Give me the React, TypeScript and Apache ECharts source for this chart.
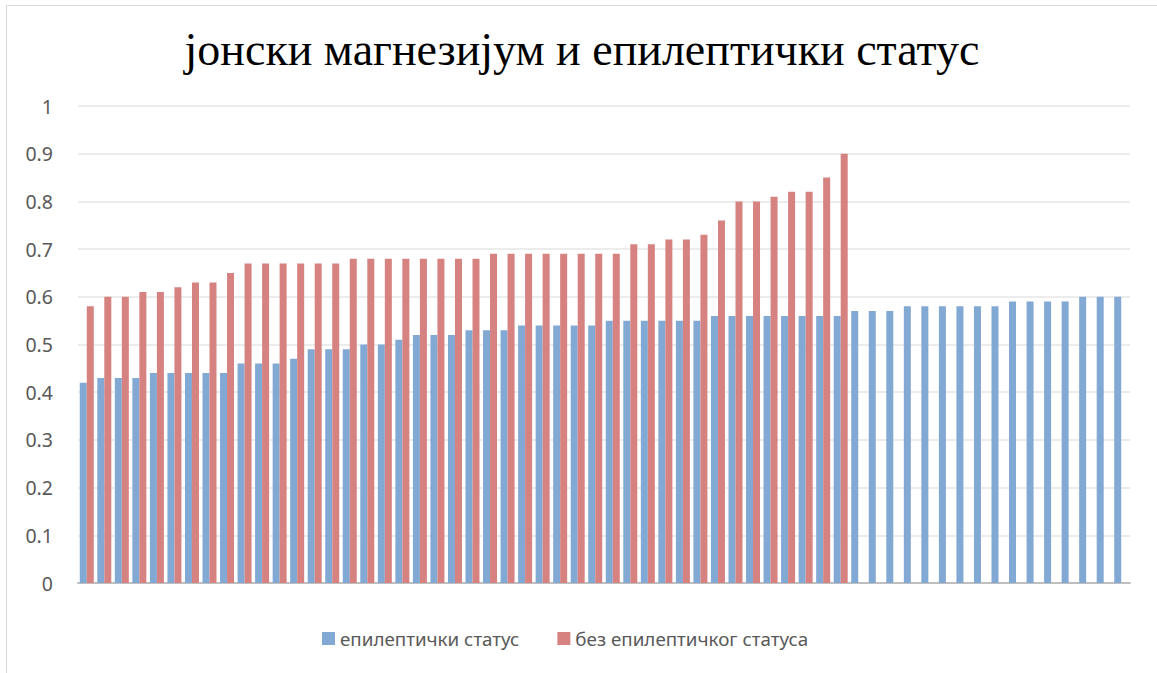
import React, { useEffect, useRef } from "react";
import * as echarts from "echarts";

const titleText = "јонски магнезијум и епилептички статус";
const seriesNames = ["епилептички статус", "без епилептичког статуса"];

const epilepticValues = [
  0.42, 0.43, 0.43, 0.43, 0.44, 0.44, 0.44, 0.44, 0.44, 0.46,
  0.46, 0.46, 0.47, 0.49, 0.49, 0.49, 0.5, 0.5, 0.51, 0.52,
  0.52, 0.52, 0.53, 0.53, 0.53, 0.54, 0.54, 0.54, 0.54, 0.54,
  0.55, 0.55, 0.55, 0.55, 0.55, 0.55, 0.56, 0.56, 0.56, 0.56,
  0.56, 0.56, 0.56, 0.56, 0.57, 0.57, 0.57, 0.58, 0.58, 0.58,
  0.58, 0.58, 0.58, 0.59, 0.59, 0.59, 0.59, 0.6, 0.6, 0.6,
];

const nonEpilepticValues = [
  0.58, 0.6, 0.6, 0.61, 0.61, 0.62, 0.63, 0.63, 0.65, 0.67,
  0.67, 0.67, 0.67, 0.67, 0.67, 0.68, 0.68, 0.68, 0.68, 0.68,
  0.68, 0.68, 0.68, 0.69, 0.69, 0.69, 0.69, 0.69, 0.69, 0.69,
  0.69, 0.71, 0.71, 0.72, 0.72, 0.73, 0.76, 0.8, 0.8, 0.81,
  0.82, 0.82, 0.85, 0.9,
];

const categories = epilepticValues.map((_, i) => String(i + 1));

export default function App() {
  const ref = useRef<HTMLDivElement>(null);
  useEffect(() => {
    if (!ref.current) return;
    const chart = echarts.init(ref.current, undefined, { renderer: "svg" });
    chart.setOption({
      animation: false,
      backgroundColor: "#ffffff",
      title: {
        text: titleText,
        left: "center",
        top: 15,
        textStyle: {
          fontFamily: "Liberation Serif",
          fontWeight: "normal",
          fontSize: 46,
          color: "#000000",
        },
      },
      legend: {
        bottom: 20,
        left: 310,
        itemWidth: 13,
        itemHeight: 13,
        itemGap: 38,
        icon: "rect",
        textStyle: {
          fontFamily: "Noto Sans",
          fontSize: 18.8,
          color: "#595959",
        },
        data: seriesNames,
      },
      grid: { left: 71, right: 27, top: 100, bottom: 90, containLabel: false },
      xAxis: {
        type: "category",
        data: categories,
        axisLine: { lineStyle: { color: "#bfbfbf", width: 2 } },
        axisTick: { show: false },
        axisLabel: { show: false },
      },
      yAxis: {
        type: "value",
        min: 0,
        max: 1,
        interval: 0.1,
        axisLine: { show: false },
        axisTick: { show: false },
        splitLine: { lineStyle: { color: "#e6e6e6", width: 1.5 } },
        axisLabel: {
          fontFamily: "Noto Sans",
          fontSize: 19.5,
          color: "#595959",
          margin: 25,
          formatter: (v: number) => String(Math.round(v * 10) / 10),
        },
      },
      series: [
        {
          name: seriesNames[0],
          type: "bar",
          data: epilepticValues,
          barWidth: 7,
          barGap: "0%",
          itemStyle: { color: "#82a8d4" },
        },
        {
          name: seriesNames[1],
          type: "bar",
          data: nonEpilepticValues,
          barWidth: 7,
          itemStyle: { color: "#d58281" },
        },
      ],
    });
    return () => chart.dispose();
  }, []);
  return (
    <div
      style={{
        position: "absolute",
        left: 0,
        top: 0,
        width: 1157,
        height: 673,
        background: "#fff",
      }}
    >
      <div
        style={{
          position: "absolute",
          left: 6,
          top: 5,
          width: 1151,
          height: 668,
          borderLeft: "1px solid #d9d9d9",
          borderTop: "1px solid #d9d9d9",
          boxSizing: "border-box",
        }}
      />
      <div ref={ref} style={{ position: "absolute", left: 7, top: 6, width: 1150, height: 667 }} />
    </div>
  );
}
